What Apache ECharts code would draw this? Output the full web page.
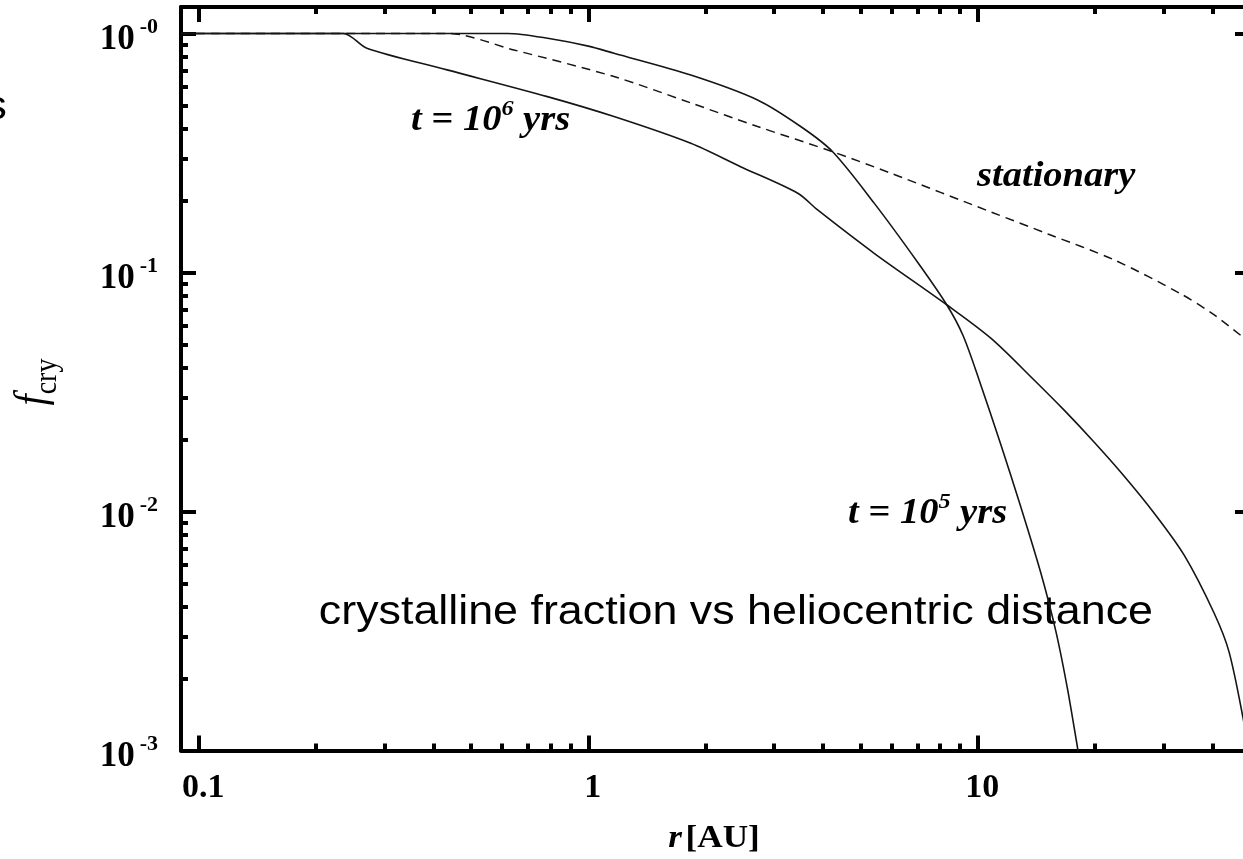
<!DOCTYPE html>
<html>
<head>
<meta charset="utf-8">
<script src="https://cdn.jsdelivr.net/npm/echarts@6/dist/echarts.min.js"></script>
<style>
  html, body { margin: 0; padding: 0; background: #ffffff; }
  #chart { width: 1243px; height: 859px; }
</style>
</head>
<body>
<div id="chart"></div>
<script>
// Crystalline silicate fraction f_cry against heliocentric distance r [AU]

// t = 10^5 yrs
const r_t1e5 = [0.09, 0.62, 0.8, 1.0, 1.164, 1.833, 2.72, 3.51, 4.24, 5.42, 7.00, 8.33, 9.16, 10.08, 11.47, 12.90, 14.52, 15.87, 17.04, 18.22];
const f_t1e5 = [1, 1, 0.95, 0.885, 0.826, 0.670, 0.527, 0.408, 0.320, 0.195, 0.1106, 0.0731, 0.0546, 0.0355, 0.01897, 0.01044, 0.00553, 0.00315, 0.00177, 0.00093];

// t = 10^6 yrs
const r_t1e6 = [0.09, 0.235, 0.270, 0.434, 0.785, 1.164, 1.833, 2.46, 3.45, 3.88, 5.42, 8.34, 10.82, 13.95, 16.64, 19.88, 23.74, 28.35, 33.85, 40.43, 44.19, 48.28, 50];
const f_t1e6 = [1, 1, 0.867, 0.704, 0.544, 0.449, 0.347, 0.277, 0.2145, 0.1826, 0.1203, 0.0731, 0.0530, 0.0355, 0.0266, 0.01953, 0.01408, 0.00986, 0.00658, 0.00376, 0.00258, 0.00130, 0.00093];

// stationary solution
const r_stat = [0.09, 0.434, 0.644, 1.164, 1.833, 2.72, 4.24, 5.99, 10.82, 15.14, 22.41, 33.25, 39.95, 47.9, 50];
const f_stat = [1, 1, 0.853, 0.660, 0.512, 0.408, 0.320, 0.260, 0.179, 0.1449, 0.1128, 0.0813, 0.0674, 0.0537, 0.0505];

// axis ranges and ticks
const xRange = [0.09, 50];
const yRange = [0.001, 1.29];
const xMajor = [0.1, 1, 10];
const xMajorLabels = ['0.1', '1', '10'];
const xMinor = [0.2, 0.3, 0.4, 0.5, 0.6, 0.7, 0.8, 0.9, 2, 3, 4, 5, 6, 7, 8, 9, 20, 30, 40];
const yMajor = [0.001, 0.01, 0.1, 1];
const yMajorExponents = ['-3', '-2', '-1', '-0'];
const yMinor = [0.002, 0.003, 0.004, 0.005, 0.006, 0.007, 0.008, 0.009,
                0.02, 0.03, 0.04, 0.05, 0.06, 0.07, 0.08, 0.09,
                0.2, 0.3, 0.4, 0.5, 0.6, 0.7, 0.8, 0.9];

const SERIF = '"Liberation Serif", "Times New Roman", serif';
const SANS = '"Liberation Sans", Arial, Helvetica, sans-serif';
const INK = '#000000';

function pairs(xs, ys) { return xs.map((x, i) => [x, ys[i]]); }

function indexOfValue(list, v) {
  for (let i = 0; i < list.length; i++) {
    if (Math.abs(Math.log10(list[i]) - Math.log10(v)) < 1e-6) return i;
  }
  return -1;
}

// one log axis of the frame: either the major ticks (with the frame line) or the minor ticks
function frameAxis(position, range, ticks, tickLen, withLine, label) {
  return {
    type: 'log',
    logBase: 10,
    min: range[0],
    max: range[1],
    position: position,
    gridIndex: 0,
    axisLine: { show: withLine, onZero: false, lineStyle: { color: INK, width: 4 } },
    axisTick: { show: true, inside: true, length: tickLen, customValues: ticks,
                lineStyle: { color: INK, width: 4 } },
    axisLabel: label || { show: false },
    splitLine: { show: false },
    minorTick: { show: false },
    minorSplitLine: { show: false }
  };
}

const xLabel = {
  show: true,
  customValues: xMajor,
  margin: 21,
  color: INK,
  fontFamily: SERIF,
  fontWeight: 'bold',
  fontSize: 34,
  padding: [0, 0, 0, 9],
  formatter: function (v) {
    const i = indexOfValue(xMajor, v);
    return i >= 0 ? xMajorLabels[i] : '';
  }
};

const yLabel = {
  show: true,
  customValues: yMajor,
  margin: 23,
  color: INK,
  formatter: function (v) {
    const i = indexOfValue(yMajor, v);
    return i >= 0 ? '{b|10}{s|' + yMajorExponents[i] + '}' : '';
  },
  rich: {
    b: { fontFamily: SERIF, fontWeight: 'bold', fontSize: 35, color: INK, padding: [13, 0, 0, 0] },
    s: { fontFamily: SERIF, fontWeight: 'bold', fontSize: 22, color: INK, padding: [0, 0, 13, 5] }
  }
};

const curveStyle = { color: '#151515', width: 1.6 };
const curveCommon = { type: 'line', xAxisIndex: 0, yAxisIndex: 0, showSymbol: false, symbol: 'none',
                      clip: true, smooth: 0.3 };

const option = {
  animation: false,
  backgroundColor: '#ffffff',
  grid: { left: 181, top: 7, right: -7, bottom: 108.5, containLabel: false, outerBoundsMode: 'none' },
  xAxis: [
    frameAxis('bottom', xRange, xMajor, 15, true, xLabel),
    frameAxis('bottom', xRange, xMinor, 7, false),
    frameAxis('top', xRange, xMajor, 15, true),
    frameAxis('top', xRange, xMinor, 7, false)
  ],
  yAxis: [
    frameAxis('left', yRange, yMajor, 15, true, yLabel),
    frameAxis('left', yRange, yMinor, 7, false),
    frameAxis('right', yRange, yMajor, 15, true),
    frameAxis('right', yRange, yMinor, 7, false)
  ],
  series: [
    Object.assign({ name: 't = 10^6 yrs', data: pairs(r_t1e6, f_t1e6), lineStyle: curveStyle }, curveCommon),
    Object.assign({ name: 't = 10^5 yrs', data: pairs(r_t1e5, f_t1e5), lineStyle: curveStyle }, curveCommon),
    Object.assign({ name: 'stationary', data: pairs(r_stat, f_stat),
      lineStyle: { color: '#151515', width: 1.5, type: [9, 6] } }, curveCommon)
  ],
  graphic: { elements: [
    // y-axis title: f_cry, rotated
    { type: 'text', x: 33, y: 382, rotation: Math.PI / 2, scaleY: 1.1,
      style: { text: '{f|f}{c|cry}', align: 'center', verticalAlign: 'middle',
        rich: {
          f: { fontFamily: SERIF, fontStyle: 'italic', fontSize: 40, fill: INK },
          c: { fontFamily: SERIF, fontSize: 28, fill: INK, padding: [28, 0, 0, 0] }
        } } },
    // x-axis title
    { type: 'text', x: 714, y: 839, scaleX: 1.1,
      style: { text: '{r|r} {u|[AU]}', align: 'center', verticalAlign: 'middle',
        rich: {
          r: { fontFamily: SERIF, fontStyle: 'italic', fontWeight: 'bold', fontSize: 32, fill: INK },
          u: { fontFamily: SERIF, fontWeight: 'bold', fontSize: 32, fill: INK }
        } } },
    // curve annotations
    { type: 'text', x: 411, y: 121, scaleX: 1.1,
      style: { text: '{b|t = 10}{s|6}{b| yrs}', align: 'left', verticalAlign: 'middle',
        rich: {
          b: { fontFamily: SERIF, fontStyle: 'italic', fontWeight: 'bold', fontSize: 35, fill: INK },
          s: { fontFamily: SERIF, fontStyle: 'italic', fontWeight: 'bold', fontSize: 22, fill: INK, padding: [0, 0, 24, 0] }
        } } },
    { type: 'text', x: 848, y: 514, scaleX: 1.1,
      style: { text: '{b|t = 10}{s|5}{b| yrs}', align: 'left', verticalAlign: 'middle',
        rich: {
          b: { fontFamily: SERIF, fontStyle: 'italic', fontWeight: 'bold', fontSize: 35, fill: INK },
          s: { fontFamily: SERIF, fontStyle: 'italic', fontWeight: 'bold', fontSize: 22, fill: INK, padding: [0, 0, 24, 0] }
        } } },
    { type: 'text', x: 977, y: 177, scaleX: 1.1,
      style: { text: 'stationary', align: 'left', verticalAlign: 'middle',
        fontFamily: SERIF, fontStyle: 'italic', fontWeight: 'bold', fontSize: 35, fill: INK } },
    // caption inside the plot
    { type: 'text', x: 1153, y: 613, scaleX: 1.12,
      style: { text: 'crystalline fraction vs heliocentric distance', align: 'right', verticalAlign: 'middle',
        fontFamily: SANS, fontSize: 40, fill: INK } },
    // fragment of neighbouring text at the left edge
    { type: 'text', x: 7, y: 108, scaleX: 1.12,
      style: { text: 's', align: 'right', verticalAlign: 'middle',
        fontFamily: SANS, fontSize: 40, fill: INK } }
  ] }
};

const chart = echarts.init(document.getElementById('chart'), null, { renderer: 'canvas', width: 1243, height: 859 });
chart.setOption(option);
</script>
</body>
</html>
